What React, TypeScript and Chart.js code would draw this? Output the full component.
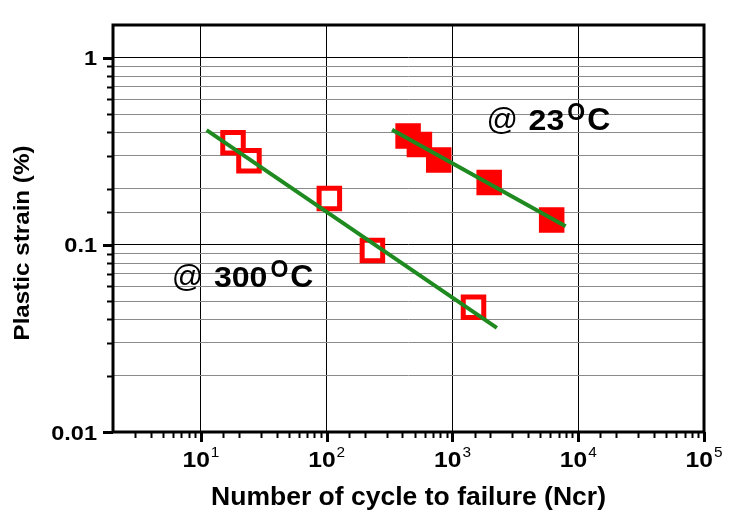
import React, { useEffect, useRef } from 'react';
import { Chart, registerables } from 'chart.js';

Chart.register(...registerables);

// ---- data ----
const cycles300 = [18, 24.1, 105, 231, 1470];
const strain300 = [0.352, 0.282, 0.177, 0.0935, 0.0464];
const cycles23 = [444, 546, 778, 1959, 6150];
const strain23 = [0.382, 0.344, 0.285, 0.216, 0.136];
const fit300X = [11.1, 2255];
const fit300Y = [0.411, 0.036];
const fit23X = [331, 7940];
const fit23Y = [0.413, 0.126];

const xMin = 2;
const xMax = 100000;
const yMin = 0.01;
const yMax = 1.5;

const xTickValues = [10, 100, 1000, 10000, 100000];
const xTickBase = '10';
const xTickExponents = ['1', '2', '3', '4', '5'];
const yTickValues = [1, 0.1, 0.01];
const yTickLabels = ['1', '0.1', '0.01'];

const xTitle = 'Number of cycle to failure (Ncr)';
const yTitle = 'Plastic strain (%)';

const annotationTemps = ['300', '23'];
const annotationX = [5.87, 1866];
const annotationY = [0.0593, 0.413];
const annotationPrefix = '@ ';
const annotationDeg = 'O';
const annotationUnit = 'C';

const RED = '#ff0000';
const GREEN = '#1f8a1f';
const FONT = '"Liberation Sans", Arial, sans-serif';

const isPow10 = (v: number) => {
  const l = Math.log10(v);
  return Math.abs(l - Math.round(l)) < 1e-6;
};

function drawText(
  ctx: CanvasRenderingContext2D,
  text: string,
  x: number,
  y: number,
  font: string,
  align: 'left' | 'center' | 'right',
  sx: number
) {
  ctx.save();
  ctx.font = font;
  ctx.textBaseline = 'alphabetic';
  ctx.textAlign = 'left';
  const w = ctx.measureText(text).width * sx;
  const x0 = align === 'center' ? x - w / 2 : align === 'right' ? x - w : x;
  ctx.translate(x0, y);
  ctx.scale(sx, 1);
  ctx.fillText(text, 0, 0);
  ctx.restore();
  return w;
}

const decorPlugin = {
  id: 'decor',
  afterDraw(chart: any) {
    const ctx: CanvasRenderingContext2D = chart.ctx;
    const ca = chart.chartArea;
    const x = chart.scales.x;
    const y = chart.scales.y;
    ctx.save();
    ctx.fillStyle = '#000';
    ctx.strokeStyle = '#000';

    // y ticks
    y.ticks.forEach((t: any) => {
      const major = isPow10(t.value);
      if (!major && t.value > y.max - 1e-9) return;
      const py = Math.round(y.getPixelForValue(t.value)) + 0.5;
      ctx.lineWidth = major ? 3 : 2;
      ctx.beginPath();
      ctx.moveTo(ca.left, py);
      ctx.lineTo(ca.left - (major ? 10 : 6), py);
      ctx.stroke();
    });
    // x ticks
    x.ticks.forEach((t: any) => {
      const major = isPow10(t.value);
      if (!major && t.value < x.min + 1e-9) return;
      const px = Math.round(x.getPixelForValue(t.value)) + 0.5;
      ctx.lineWidth = major ? 3 : 2;
      ctx.beginPath();
      ctx.moveTo(px, ca.bottom);
      ctx.lineTo(px, ca.bottom + (major ? 10 : 6));
      ctx.stroke();
    });

    // frame
    ctx.lineWidth = 3;
    ctx.strokeRect(ca.left, ca.top, ca.right - ca.left, ca.bottom - ca.top);

    // y tick labels
    yTickValues.forEach((v, i) => {
      const py = y.getPixelForValue(v);
      drawText(ctx, yTickLabels[i], ca.left - 16, py + 7.5, `bold 21px ${FONT}`, 'right', 1.12);
    });

    // x tick labels with superscript
    xTickValues.forEach((v, i) => {
      const px = x.getPixelForValue(v);
      ctx.font = `bold 22px ${FONT}`;
      const wb = ctx.measureText(xTickBase).width * 1.12;
      ctx.font = `14px ${FONT}`;
      const we = ctx.measureText(xTickExponents[i]).width * 1.1;
      const total = wb + 1 + we;
      const x0 = px - total / 2;
      drawText(ctx, xTickBase, x0, ca.bottom + 35, `bold 22px ${FONT}`, 'left', 1.12);
      drawText(ctx, xTickExponents[i], x0 + wb + 1, ca.bottom + 25, `14px ${FONT}`, 'left', 1.1);
    });

    // axis titles
    drawText(ctx, xTitle, (ca.left + ca.right) / 2, 505, `bold 26px ${FONT}`, 'center', 1.02);
    ctx.save();
    ctx.translate(29, 243);
    ctx.rotate(-Math.PI / 2);
    drawText(ctx, yTitle, 0, 0, `bold 22px ${FONT}`, 'center', 1.1);
    ctx.restore();

    // annotations
    annotationTemps.forEach((temp, i) => {
      const ax = x.getPixelForValue(annotationX[i]);
      const ay = y.getPixelForValue(annotationY[i]);
      let cx = ax;
      cx += drawText(ctx, annotationPrefix, cx, ay, `31px ${FONT}`, 'left', 1.0);
      cx += 2;
      cx += drawText(ctx, temp, cx, ay, `bold 30px ${FONT}`, 'left', 1.07);
      cx += 3;
      cx += drawText(ctx, annotationDeg, cx, ay - 10, `bold 23px ${FONT}`, 'left', 1.0);
      cx += 2;
      drawText(ctx, annotationUnit, cx, ay, `bold 31px ${FONT}`, 'left', 1.03);
    });

    ctx.restore();
  },
};

export default function App() {
  const canvasRef = useRef<HTMLCanvasElement | null>(null);

  useEffect(() => {
    document.body.style.margin = '0';
    const canvas = canvasRef.current;
    if (!canvas) return;
    const toPts = (xs: number[], ys: number[]) => xs.map((v, i) => ({ x: v, y: ys[i] }));

    const chart = new Chart(canvas, {
      type: 'scatter',
      data: {
        datasets: [
          {
            label: 'fit 300',
            data: toPts(fit300X, fit300Y),
            showLine: true,
            borderColor: GREEN,
            borderWidth: 4,
            pointRadius: 0,
            order: 0,
          },
          {
            label: 'fit 23',
            data: toPts(fit23X, fit23Y),
            showLine: true,
            borderColor: GREEN,
            borderWidth: 4,
            pointRadius: 0,
            order: 0,
          },
          {
            label: '300C',
            data: toPts(cycles300, strain300),
            pointStyle: 'rect',
            pointRadius: 14.5,
            pointBorderWidth: 5,
            pointBackgroundColor: '#ffffff',
            pointBorderColor: RED,
            showLine: false,
            order: 1,
          },
          {
            label: '23C',
            data: toPts(cycles23, strain23),
            pointStyle: 'rect',
            pointRadius: 14.5,
            pointBorderWidth: 5,
            pointBackgroundColor: RED,
            pointBorderColor: RED,
            showLine: false,
            order: 1,
          },
        ],
      },
      options: {
        animation: false,
        responsive: false,
        maintainAspectRatio: false,
        layout: { padding: { top: 25, right: 31, left: 0, bottom: 0 } },
        plugins: {
          legend: { display: false },
          tooltip: { enabled: false },
          title: { display: false },
        },
        scales: {
          x: {
            type: 'logarithmic',
            min: xMin,
            max: xMax,
            ticks: { display: false, autoSkip: false },
            border: { display: false },
            grid: {
              drawTicks: false,
              lineWidth: 1,
              color: (c: any) => (c.tick && isPow10(c.tick.value) ? '#000000' : 'rgba(0,0,0,0)'),
            },
            afterFit: (s: any) => {
              s.height = 80;
            },
          },
          y: {
            type: 'logarithmic',
            min: yMin,
            max: yMax,
            ticks: { display: false, autoSkip: false },
            border: { display: false },
            grid: {
              drawTicks: false,
              lineWidth: 1,
              color: (c: any) => {
                if (!c.tick) return 'rgba(0,0,0,0)';
                if (isPow10(c.tick.value)) return '#000000';
                if (c.tick.value > yMax - 1e-9) return 'rgba(0,0,0,0)';
                return '#8a8a8a';
              },
            },
            afterFit: (s: any) => {
              s.width = 113;
            },
          },
        },
      },
      plugins: [decorPlugin],
    } as any);

    return () => chart.destroy();
  }, []);

  return (
    <div style={{ width: 735, height: 512, background: '#fff' }}>
      <canvas ref={canvasRef} width={735} height={512} style={{ display: 'block' }} />
    </div>
  );
}
